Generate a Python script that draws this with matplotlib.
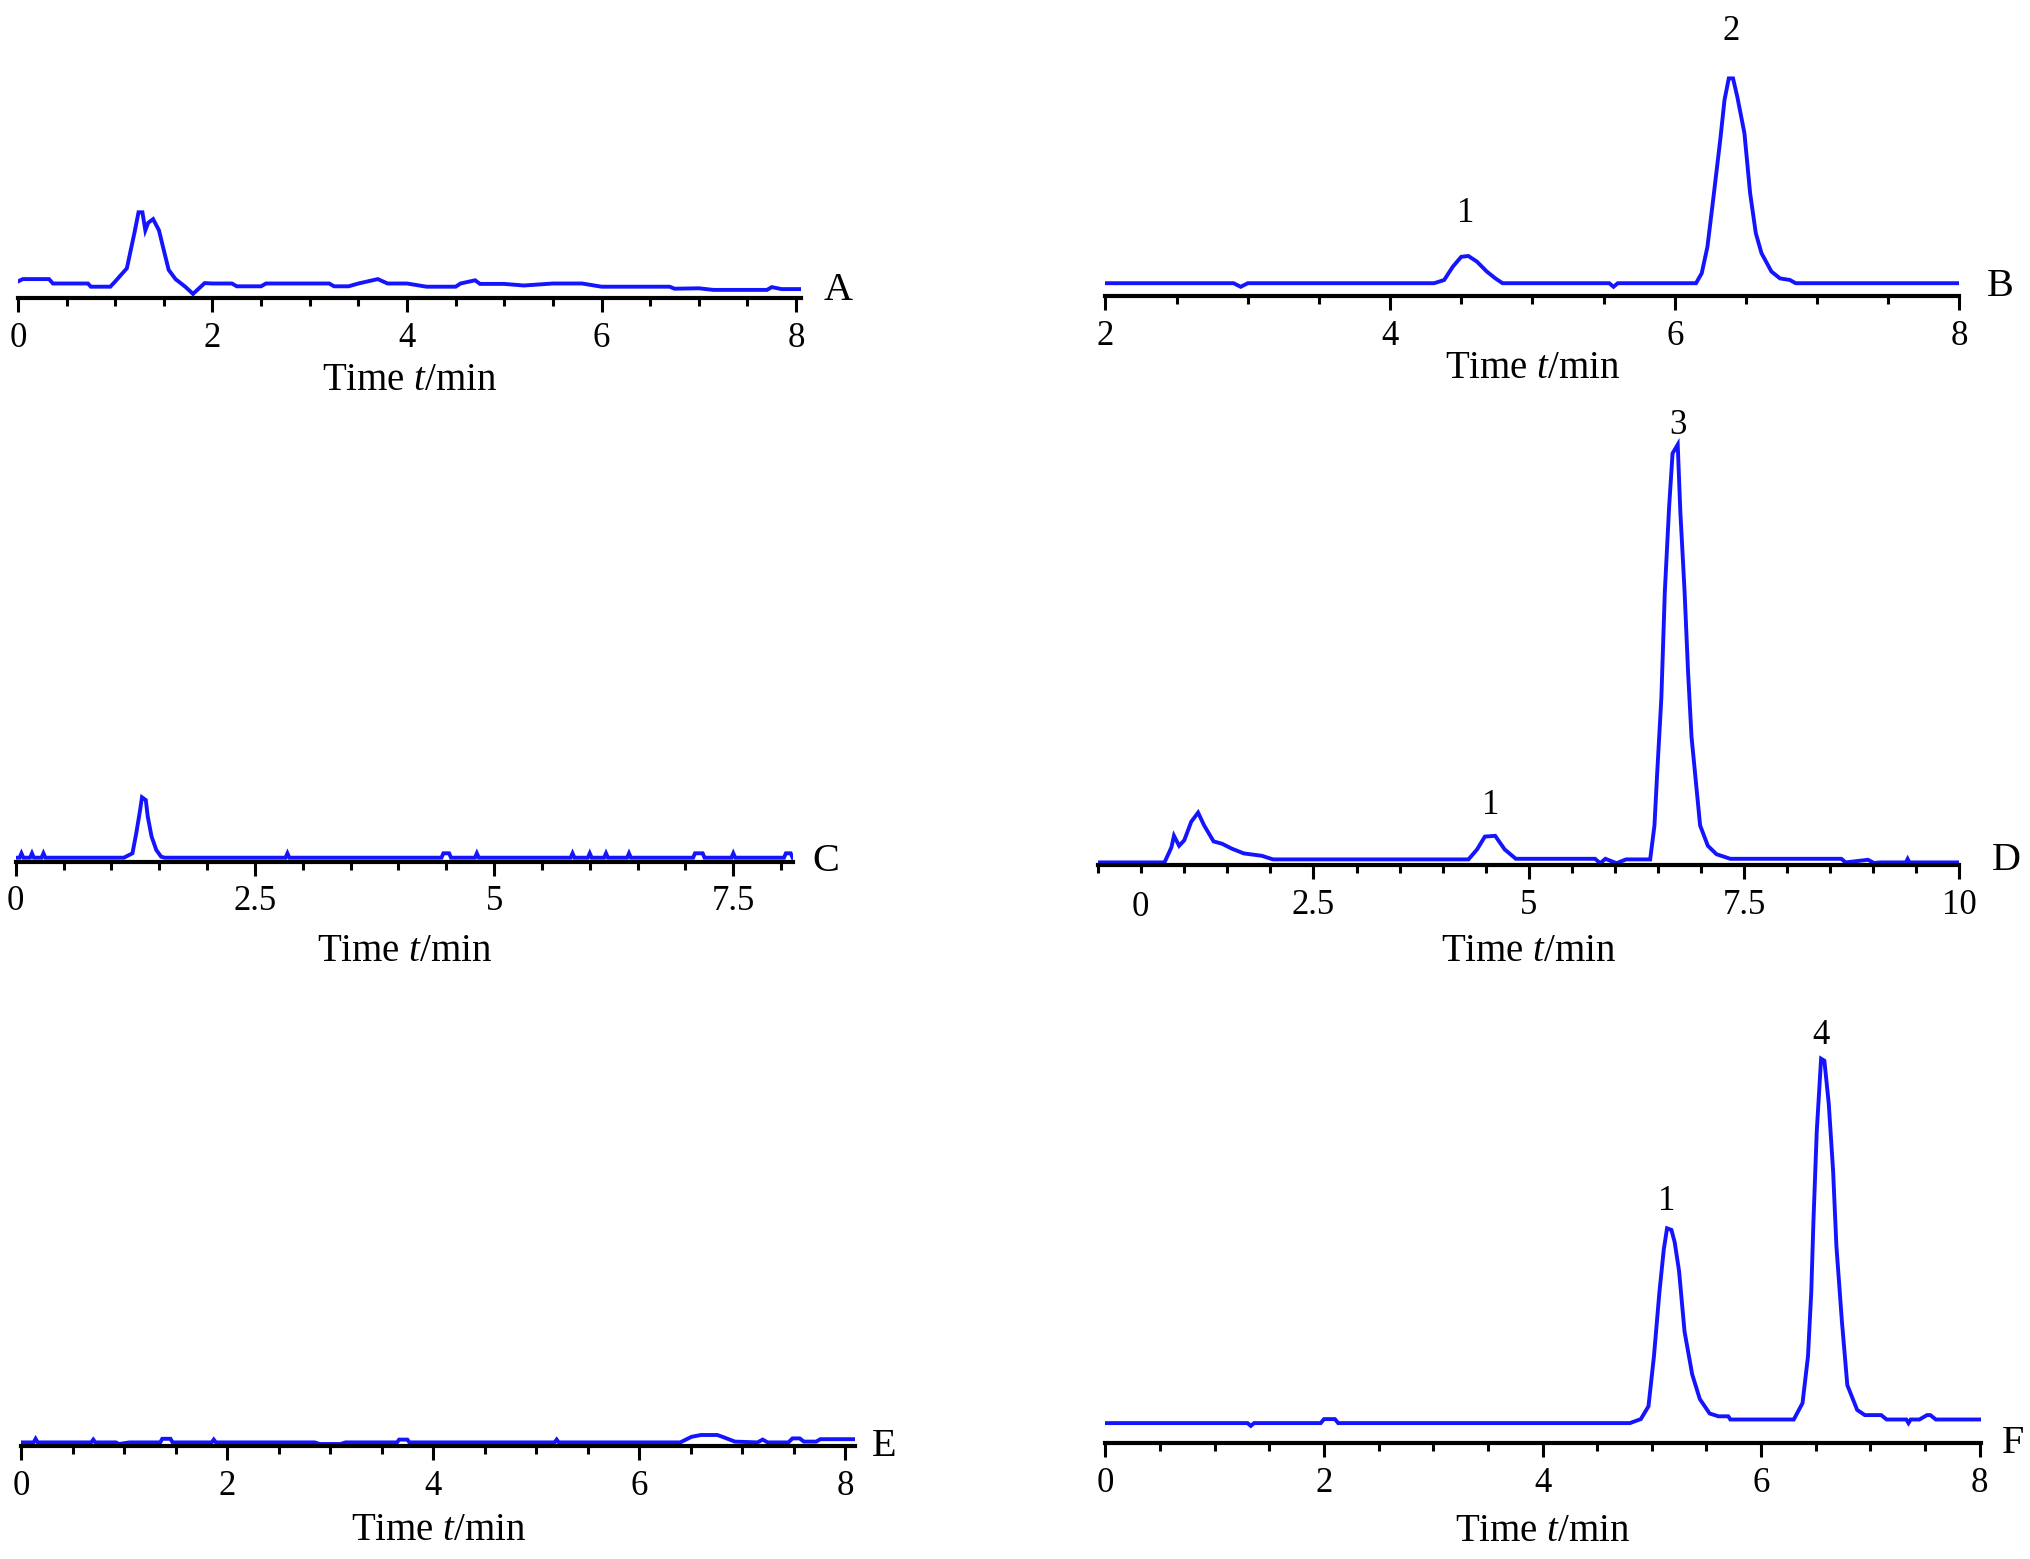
import matplotlib
matplotlib.use("Agg")
import matplotlib.pyplot as plt
from matplotlib.ticker import MultipleLocator

plt.rcParams['font.family'] = ['Liberation Serif', 'DejaVu Serif']
plt.rcParams['mathtext.fontset'] = 'custom'
plt.rcParams['mathtext.rm'] = 'Liberation Serif'
plt.rcParams['mathtext.it'] = 'Liberation Serif:italic'

# ---- chromatogram traces (time in min, response in a.u.) ----
A_time = [0.00, 0.05, 0.32, 0.36, 0.72, 0.75, 0.95, 1.00, 1.12, 1.20,
          1.24, 1.28, 1.31, 1.34, 1.39, 1.45, 1.50, 1.55, 1.62, 1.72,
          1.80, 1.92, 2.00, 2.20, 2.25, 2.50, 2.55, 2.70, 3.20, 3.25,
          3.40, 3.50, 3.70, 3.80, 4.00, 4.20, 4.50, 4.55, 4.70, 4.75,
          5.00, 5.20, 5.50, 5.80, 6.00, 6.70, 6.75, 7.00, 7.15, 7.70,
          7.75, 7.85, 8.07]
A_resp = [4.2, 4.8, 4.8, 3.7, 3.7, 2.9, 2.9, 4.2, 7.5, 16.6,
          21.5, 21.5, 17.0, 18.9, 19.8, 17.0, 12.0, 7.1, 4.8, 2.9,
          1.1, 3.8, 3.7, 3.7, 3.0, 3.0, 3.7, 3.7, 3.7, 3.0,
          3.0, 3.7, 4.8, 3.7, 3.7, 2.9, 2.9, 3.7, 4.5, 3.6,
          3.6, 3.2, 3.7, 3.7, 2.9, 2.9, 2.4, 2.5, 2.1, 2.1,
          2.8, 2.3, 2.3]

B_time = [2.00, 2.90, 2.95, 3.00, 4.31, 4.38, 4.44, 4.50, 4.55, 4.61,
          4.68, 4.74, 4.79, 5.54, 5.57, 5.60, 6.15, 6.19, 6.23, 6.27,
          6.32, 6.35, 6.38, 6.41, 6.44, 6.49, 6.53, 6.57, 6.61, 6.68,
          6.74, 6.81, 6.85, 8.00]
B_resp = [3.2, 3.2, 2.3, 3.2, 3.2, 4.0, 7.3, 9.8, 10.0, 8.6,
          6.1, 4.4, 3.2, 3.2, 2.3, 3.2, 3.2, 5.7, 12.3, 24.0,
          39.0, 49.0, 54.4, 54.4, 49.8, 40.7, 25.7, 15.7, 10.7, 6.1,
          4.4, 4.0, 3.2, 3.2]

C_time = [0.00, 0.04, 0.06, 0.08, 0.15, 0.17, 0.19, 0.27, 0.29, 0.31,
          1.13, 1.22, 1.26, 1.30, 1.32, 1.36, 1.38, 1.42, 1.47, 1.52,
          1.56, 2.82, 2.84, 2.86, 4.45, 4.47, 4.53, 4.55, 4.80, 4.82,
          4.84, 5.80, 5.82, 5.84, 5.98, 6.00, 6.02, 6.15, 6.17, 6.19,
          6.39, 6.41, 6.43, 7.08, 7.10, 7.18, 7.20, 7.48, 7.50, 7.52,
          8.03, 8.05, 8.10, 8.12]
C_resp = [1.0, 1.0, 2.1, 1.0, 1.0, 2.1, 1.0, 1.0, 2.1, 1.0,
          1.0, 2.1, 7.1, 12.9, 16.1, 15.4, 11.3, 6.3, 2.9, 1.25,
          1.0, 1.0, 2.1, 1.0, 1.0, 2.1, 2.1, 1.0, 1.0, 2.1,
          1.0, 1.0, 2.1, 1.0, 1.0, 2.1, 1.0, 1.0, 2.1, 1.0,
          1.0, 2.1, 1.0, 1.0, 2.1, 2.1, 1.0, 1.0, 2.1, 1.0,
          1.0, 2.1, 2.1, 1.0]

D_time = [0.00, 0.77, 0.85, 0.88, 0.94, 1.00, 1.08, 1.16, 1.23, 1.34,
          1.44, 1.55, 1.69, 1.90, 2.03, 4.30, 4.40, 4.49, 4.61, 4.72,
          4.85, 5.77, 5.83, 5.89, 6.02, 6.13, 6.41, 6.46, 6.49, 6.54,
          6.58, 6.63, 6.67, 6.73, 6.76, 6.81, 6.85, 6.89, 6.94, 6.99,
          7.08, 7.18, 7.34, 8.63, 8.68, 8.94, 9.01, 9.08, 9.38, 9.40,
          9.42, 10.00]
D_resp = [0.75, 0.75, 4.5, 7.4, 4.9, 6.3, 10.9, 13.2, 10.0, 6.0,
          5.4, 4.2, 3.0, 2.4, 1.5, 1.5, 4.0, 7.2, 7.4, 4.0,
          1.65, 1.65, 0.55, 1.65, 0.55, 1.5, 1.5, 10.0, 22.5, 41.9,
          68.3, 89.6, 103.0, 105.2, 88.6, 68.3, 48.4, 32.2, 21.1, 10.0,
          4.9, 2.8, 1.65, 1.65, 0.75, 1.4, 0.6, 0.75, 0.75, 1.6,
          0.75, 0.75]

E_time = [0.00, 0.12, 0.14, 0.16, 0.68, 0.70, 0.72, 0.92, 0.95, 1.05,
          1.35, 1.37, 1.45, 1.47, 1.85, 1.87, 1.89, 2.85, 2.90, 3.10,
          3.15, 3.65, 3.67, 3.75, 3.77, 5.18, 5.20, 5.22, 6.40, 6.51,
          6.60, 6.76, 6.82, 6.93, 7.15, 7.20, 7.25, 7.45, 7.49, 7.56,
          7.60, 7.72, 7.76, 8.10]
E_resp = [0.9, 0.9, 1.8, 0.9, 0.9, 1.6, 0.9, 0.9, 0.5, 0.9,
          0.9, 1.8, 1.8, 0.9, 0.9, 1.6, 0.9, 0.9, 0.5, 0.5,
          0.9, 0.9, 1.6, 1.6, 0.9, 0.9, 1.6, 0.9, 0.9, 2.3,
          2.75, 2.75, 2.2, 1.1, 0.9, 1.6, 0.9, 0.9, 1.9, 1.9,
          1.1, 1.1, 1.7, 1.7]

F_time = [0.00, 1.30, 1.33, 1.36, 1.97, 2.00, 2.10, 2.13, 4.80, 4.90,
          4.97, 5.02, 5.07, 5.11, 5.14, 5.18, 5.21, 5.25, 5.30, 5.37,
          5.44, 5.53, 5.61, 5.70, 5.72, 6.30, 6.38, 6.43, 6.46, 6.48,
          6.51, 6.55, 6.58, 6.62, 6.66, 6.69, 6.74, 6.79, 6.88, 6.95,
          7.10, 7.15, 7.33, 7.35, 7.37, 7.45, 7.52, 7.55, 7.60, 8.01]
F_resp = [5.0, 5.0, 4.3, 5.0, 5.0, 6.0, 6.0, 5.0, 5.0, 6.0,
          9.2, 21.7, 37.7, 48.4, 53.7, 53.3, 50.2, 43.0, 27.9, 17.2,
          11.0, 7.4, 6.7, 6.7, 5.9, 5.9, 10.0, 21.7, 37.7, 55.5,
          77.8, 96.1, 95.6, 84.9, 68.0, 49.3, 30.6, 14.5, 8.3, 7.0,
          7.0, 5.9, 5.9, 5.0, 5.9, 5.9, 7.0, 7.0, 5.9, 5.9]

# tick labels per panel
A_ticks = [0, 2, 4, 6, 8]
B_ticks = [2, 4, 6, 8]
C_ticks = [0, 2.5, 5, 7.5]
D_ticks = [2.5, 5, 7.5, 10]
E_ticks = [0, 2, 4, 6, 8]
F_ticks = [0, 2, 4, 6, 8]

# peak numbers (label, time, response)
B_peaks = [("1", 4.53, 20.7), ("2", 6.40, 66.0)]
D_peaks = [("1", 4.56, 15.0), ("3", 6.73, 110.0)]
F_peaks = [("1", 5.14, 60.5), ("4", 6.55, 102.0)]

# ---- layout (pixels of the 2031x1559 figure) ----
W, H = 2031, 1559
PX_PER_UNIT = 4.0
fig = plt.figure(figsize=(W / 100, H / 100), dpi=100)
fig.patch.set_facecolor('white')

# letter, time, resp, xlim, ticks, peaks, (left, axis_y, right, height),
# xlabel offset px, letter gap px, letter dy px
panels = [
    ("A", A_time, A_resp, (0, 8.05), A_ticks, [], (17.9, 298.3, 801.0, 280), 82, 23, 8),
    ("B", B_time, B_resp, (2, 8.0), B_ticks, B_peaks, (1105.5, 296.0, 1959.3, 280), 72, 28, 9),
    ("C", C_time, C_resp, (0, 8.12), C_ticks, [], (15.7, 861.7, 792.6, 460), 90, 20, 0),
    ("D", D_time, D_resp, (0, 10.0), D_ticks, D_peaks, (1098.2, 865.4, 1959.3, 460), 86, 33, 5),
    ("E", E_time, E_resp, (0, 8.1), E_ticks, [], (21.2, 1446.0, 855.3, 440), 84, 17, 0),
    ("F", F_time, F_resp, (0, 8.01), F_ticks, F_peaks, (1105.5, 1443.1, 1980.6, 440), 88, 21, 0),
]

for letter, t, r, xlim, ticks, peaks, box, xl_off, gap, dy in panels:
    left, axis_y, right, height = box
    ax = fig.add_axes([left / W, 1 - axis_y / H, (right - left) / W, height / H])
    ax.set_facecolor('none')
    ax.plot(t, r, color='#1414ff', lw=2.8, solid_joinstyle='miter')
    ax.set_xlim(*xlim)
    ax.set_ylim(0, height / PX_PER_UNIT)

    for s in ['left', 'top', 'right']:
        ax.spines[s].set_visible(False)
    ax.spines['bottom'].set_linewidth(3.0)
    ax.set_yticks([])

    ax.set_xticks(ticks, labels=[f"{v:g}" for v in ticks])
    ax.xaxis.set_minor_locator(MultipleLocator(0.5))
    ax.tick_params(axis='x', which='major', direction='out', length=10, width=2.2,
                   pad=7, labelsize=25)
    ax.tick_params(axis='x', which='minor', direction='out', length=5.5, width=2.2)

    if letter == "D":
        # the "0" sits a little right of the axis origin in the original
        ax.annotate("0", xy=(0.49, 0), xycoords=('data', 'axes fraction'),
                    xytext=(0, -30), textcoords='offset points',
                    ha='center', va='center', fontsize=25)

    ax.annotate("Time $t$/min", xy=(0.5, 0), xycoords='axes fraction',
                xytext=(0, -xl_off * 0.72), textcoords='offset points',
                ha='center', va='center', fontsize=28)
    ax.annotate(letter, xy=(1, 0), xycoords='axes fraction',
                xytext=(gap * 0.72, dy * 0.72), textcoords='offset points',
                ha='left', va='center', fontsize=29)

    for lab, pt, pr in peaks:
        ax.text(pt, pr, lab, ha='center', va='center', fontsize=25, clip_on=False)

fig.savefig("out.png", dpi=100, facecolor='white')
